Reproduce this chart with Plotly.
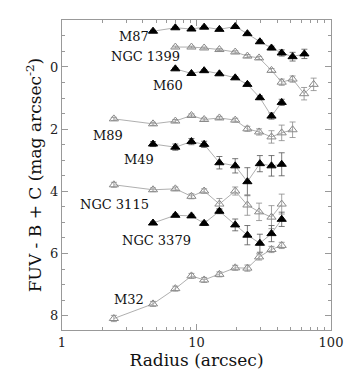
import math
import plotly.graph_objects as go

# Radii (arcsec) and FUV - B + C values
m87_r = [4.75, 6.96, 9.17, 11.4, 14.8, 19.4, 23.9, 29.6, 36.1, 43.0, 51.8, 63.4]
m87_y = [-1.15, -1.26, -1.22, -1.28, -1.21, -1.30, -1.07, -0.81, -0.61, -0.45, -0.33, -0.42]
m87_e = [0.03, 0.03, 0.03, 0.03, 0.03, 0.03, 0.04, 0.05, 0.06, 0.10, 0.14, 0.15]

n1399_r = [6.96, 9.17, 11.4, 14.8, 19.4, 23.9, 29.2, 36.1, 43.0, 51.8, 63.1, 74.3]
n1399_y = [-0.64, -0.64, -0.61, -0.56, -0.48, -0.35, -0.29, 0.11, 0.49, 0.39, 0.86, 0.56]
n1399_e = [0.03, 0.03, 0.03, 0.03, 0.04, 0.05, 0.05, 0.06, 0.10, 0.10, 0.20, 0.20]

m60_r = [6.96, 9.17, 11.4, 14.8, 19.4, 23.9, 29.6, 36.1, 43.0]
m60_y = [0.06, 0.21, 0.12, 0.22, 0.35, 0.56, 0.99, 1.58, 1.14]
m60_e = [0.03, 0.03, 0.03, 0.03, 0.04, 0.05, 0.06, 0.10, 0.10]

m89_r = [2.43, 4.75, 6.96, 9.17, 11.4, 14.8, 19.4, 23.9, 29.2, 36.1, 43.0, 51.8]
m89_y = [1.67, 1.83, 1.74, 1.56, 1.69, 1.64, 1.71, 1.99, 2.09, 2.25, 2.12, 2.02]
m89_e = [0.05, 0.05, 0.05, 0.05, 0.05, 0.05, 0.06, 0.08, 0.10, 0.20, 0.25, 0.25]

m49_r = [4.75, 6.96, 9.17, 11.4, 14.8, 19.4, 23.9, 29.6, 36.1, 43.0]
m49_y = [2.48, 2.58, 2.40, 2.49, 3.08, 3.18, 3.69, 3.11, 3.18, 3.13]
m49_e = [0.08, 0.10, 0.10, 0.10, 0.20, 0.23, 0.45, 0.26, 0.33, 0.37]

n3115_r = [2.43, 4.75, 6.96, 9.17, 11.4, 14.8, 19.4, 23.9, 29.2, 36.1, 43.0]
n3115_y = [3.79, 3.95, 3.92, 4.16, 3.99, 4.41, 3.99, 4.44, 4.66, 4.83, 4.41]
n3115_e = [0.08, 0.06, 0.06, 0.08, 0.07, 0.18, 0.13, 0.33, 0.28, 0.37, 0.32]

n3379_r = [4.75, 6.96, 9.17, 11.4, 14.8, 19.4, 23.9, 29.6, 36.1, 43.0]
n3379_y = [5.02, 4.77, 4.79, 5.03, 4.64, 5.08, 5.41, 5.67, 5.36, 4.90]
n3379_e = [0.04, 0.04, 0.05, 0.07, 0.08, 0.19, 0.31, 0.29, 0.26, 0.23]

m32_r = [2.43, 4.75, 6.96, 9.17, 11.4, 14.8, 19.4, 23.9, 29.2, 36.1, 43.0]
m32_y = [8.09, 7.62, 7.13, 6.72, 6.85, 6.67, 6.46, 6.47, 6.11, 5.87, 5.74]
m32_e = [0.10, 0.08, 0.08, 0.08, 0.08, 0.08, 0.08, 0.10, 0.10, 0.10, 0.10]

series = [
    ("M87", m87_r, m87_y, m87_e, True),
    ("NGC 1399", n1399_r, n1399_y, n1399_e, False),
    ("M60", m60_r, m60_y, m60_e, True),
    ("M89", m89_r, m89_y, m89_e, False),
    ("M49", m49_r, m49_y, m49_e, True),
    ("NGC 3115", n3115_r, n3115_y, n3115_e, False),
    ("NGC 3379", n3379_r, n3379_y, n3379_e, True),
    ("M32", m32_r, m32_y, m32_e, False),
]

label_names = ["M87", "NGC 1399", "M60", "M89", "M49", "NGC 3115", "NGC 3379", "M32"]
label_x = [4.6, 7.8, 8.2, 2.96, 5.0, 4.6, 9.36, 4.18]
label_y = [-0.99, -0.34, 0.59, 2.19, 2.99, 4.41, 5.59, 7.47]

fig = go.Figure()
for name, r, y, e, filled in series:
    mcol = "black" if filled else "#8a8a8a"
    fig.add_trace(go.Scatter(
        x=r, y=y, name=name, mode="lines+markers",
        line=dict(color="#9a9a9a", width=0.8),
        marker=dict(symbol="triangle-up" if filled else "triangle-up-open",
                    size=8, color=mcol, line=dict(color=mcol, width=1)),
        error_y=dict(type="data", array=e, visible=True,
                     color="#555555" if filled else "#8a8a8a",
                     thickness=0.8, width=3),
        showlegend=False,
    ))

for t, lx, ly in zip(label_names, label_x, label_y):
    fig.add_annotation(x=math.log10(lx), y=ly, xref="x", yref="y", text=t, showarrow=False,
                       xanchor="right", yanchor="middle",
                       font=dict(family="DejaVu Serif", size=13, color="#111111"))

axis_common = dict(
    showline=True, linecolor="#999999", linewidth=1, mirror="ticks",
    ticks="inside", ticklen=6, tickcolor="#999999", showgrid=False, zeroline=False,
    tickfont=dict(family="DejaVu Serif", size=13, color="#222222"),
)

fig.update_xaxes(type="log", range=[0, 2], tickvals=[1, 10, 100],
                 ticktext=["1", "10", "100"], ticklabeloverflow="allow",
                 minor=dict(tickvals=[2, 3, 4, 5, 6, 7, 8, 9, 20, 30, 40, 50, 60, 70, 80, 90],
                            ticks="inside", ticklen=3, tickcolor="#999999"),
                 title=dict(text="Radius (arcsec)", font=dict(family="DejaVu Serif", size=17, color="#111111"),
                            standoff=3),
                 **axis_common)
fig.update_yaxes(range=[8.46, -1.51], tickvals=[0, 2, 4, 6, 8],
                 minor=dict(dtick=0.5, ticks="inside", ticklen=3, tickcolor="#999999"),
                 title=dict(text="FUV - B + C (mag arcsec<sup>-2</sup>)",
                            font=dict(family="DejaVu Serif", size=17, color="#111111"),
                            standoff=4),
                 **axis_common)

fig.update_layout(width=346, height=367, margin=dict(l=54, r=13, t=11, b=33),
                  paper_bgcolor="white", plot_bgcolor="white")
fig.write_html("out.html")
